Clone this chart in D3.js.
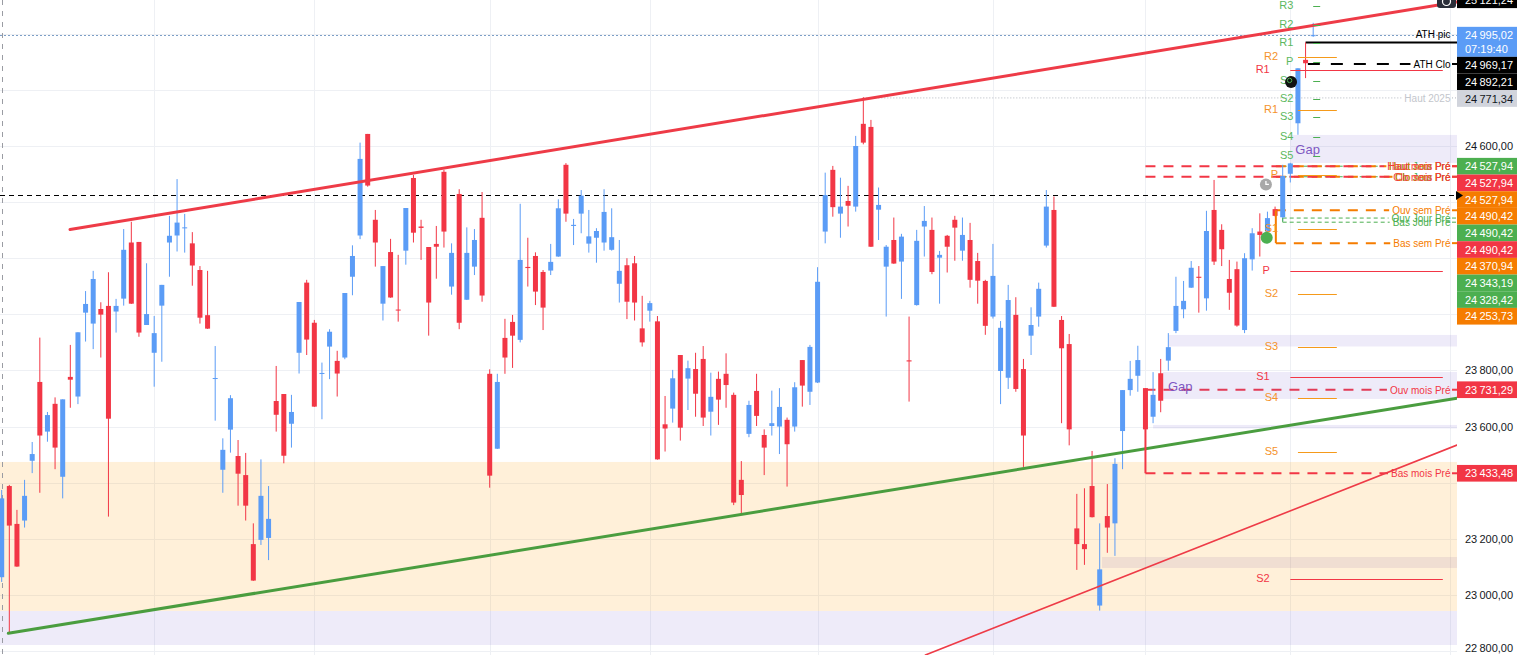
<!DOCTYPE html>
<html><head><meta charset="utf-8">
<script src="https://cdn.jsdelivr.net/npm/d3@7"></script>
<style>
html,body{margin:0;padding:0;background:#fff;overflow:hidden}
svg{display:block;font-family:"Liberation Sans",Arial,sans-serif}
</style></head><body>
<svg id="c" width="1517" height="655"></svg>
<script>
// ---------- DATA ----------
const open  = [23063,23388,23253,23265,23478,23759,23582,23681,23421,23777,23707,24006,23967,24019,24030,24010,24056,24256,24258,23962,23863,24031,24256,24281,24307,24253,24158,23997,23770,23446,23589,23495,23427,23181,23196,23203,23691,23716,23610,23863,24113,23970,23788,23885,23834,23846,24134,24281,24643,24337,24038,24222,24017,24227,24486,24313,24240,24251,24508,24099,24429,24052,24170,24344,23788,23521,23916,23973,23909,24169,24208,24151,24156,24206,24533,24315,24359,24252,24273,24256,24230,24109,24175,24182,23950,24013,23975,23608,23664,23855,23771,23805,23841,23653,23770,23788,23713,23410,23574,23727,23570,23602,23600,23624,23600,23837,23724,23757,24295,24515,24359,24404,24384,24679,24668,24373,24170,24265,24188,23836,24033,24313,24301,24202,24280,24337,24227,24265,24190,24119,23992,23798,23774,23998,23805,23924,23992,24245,24372,23980,23894,23237,23181,23388,22962,23281,23255,23584,23730,23781,23737,23635,23790,23835,23941,24018,24095,24134,24057,24372,24301,24126,24161,23944,24196,24295,24295,24375,24346,24501,24681,24907,24992];
const high  = [23374,23392,23303,23410,23545,23917,23652,23704,23697,23891,23936,24083,24155,24043,24150,24055,24304,24330,24258,24182,23994,24105,24351,24482,24358,24293,24172,24155,23887,23558,23712,23552,23506,23255,23483,23388,23816,23716,23713,24044,24123,23980,23828,23947,23870,24076,24246,24612,24643,24372,24172,24269,24212,24379,24497,24337,24240,24315,24515,24253,24446,24310,24304,24436,23804,23788,23984,23998,24394,24273,24221,24158,24251,24410,24539,24340,24443,24372,24307,24446,24378,24265,24200,24208,24066,24048,23994,23709,23802,23855,23835,23863,23887,23792,23796,23861,23721,23477,23692,23788,23590,23728,23737,23632,23758,23837,23891,24168,24505,24529,24487,24458,24636,24774,24693,24452,24247,24345,24287,23992,24301,24386,24345,24226,24283,24351,24345,24326,24219,24123,24251,23976,24105,24061,23841,24025,24113,24443,24420,23994,23930,23360,23380,23513,23255,23395,23487,23730,23834,23888,23737,23794,23841,23933,24134,24119,24190,24172,24369,24479,24321,24194,24188,24218,24307,24360,24366,24384,24533,24540,24877,24969.17,25039];
const low   = [23046,22863,23100,23240,23434,23364,23546,23448,23344,23667,23680,23903,23876,23846,23279,23935,24031,24037,23920,23962,23742,23831,24134,24224,24220,24102,23967,23948,23621,23364,23507,23318,23265,23050,23178,23124,23582,23469,23525,23789,23855,23670,23626,23769,23707,23840,24068,24268,24455,24170,23978,24059,23974,24177,24256,24194,23924,24127,24238,24070,23947,24051,24140,24045,23382,23520,23788,23809,23900,24099,24033,23944,24140,24205,24330,24247,24289,24220,24184,24227,24227,24042,23983,23978,23885,23974,23482,23511,23614,23550,23659,23635,23602,23568,23606,23667,23320,23285,23562,23602,23427,23568,23502,23386,23582,23671,23677,23755,24253,24348,24273,24313,24366,24606,24240,24265,23992,24180,24055,23689,24031,24206,24143,24038,24149,24191,24191,24095,24038,23927,23985,23680,23734,23724,23456,23855,23956,24238,24026,23612,23533,23089,23107,23276,22944,23150,23139,23448,23710,23724,23590,23612,23651,23799,23933,23986,24094,24006,24013,24176,24172,24016,23956,23933,24156,24206,24253,24349,24333,24470,24640,24842,24989];
const close = [23344,23247,23101,23353,23502,23568,23641,23525,23697,23767,23936,24037,24126,23999,23628,24030,24230,24038,23935,24001,23933,24105,24280,24327,24310,24174,23988,23949,23773,23517,23701,23432,23318,23051,23353,23271,23642,23496,23652,24044,23910,23671,23791,23938,23789,24076,24208,24554,24459,24256,24172,24060,24014,24379,24291,24308,24042,24241,24295,24219,23970,24219,24265,24067,23425,23759,23846,23924,24194,24165,24081,24024,24187,24378,24359,24319,24423,24278,24297,24365,24275,24155,24045,24042,23900,24040,23483,23593,23772,23596,23808,23717,23632,23706,23696,23748,23329,23356,23677,23638,23525,23612,23670,23537,23740,23746,23884,24116,24425,24382,24384,24387,24600,24612,24241,24390,24241,24181,24277,23832,24262,24333,24151,24212,24241,24309,24283,24123,24120,23959,24137,23952,24051,23734,23568,23962,24091,24384,24027,23879,23590,23181,23163,23277,23091,23240,23467,23730,23770,23837,23590,23713,23692,23883,24030,24048,24166,24130,24297,24188,24232,24077,23960,24200,24289,24283,24343,24351,24493,24538,24877,24895,24995.02];

const priceTicks = [22800,23000,23200,23400,23600,23800,24000,24200,24400,24600,24800,25000];
const monthStarts = [20,41,64,85,107,130,150,169,190];

// zones (from candle index, top price, bottom price)
const zoneFrom = [-1,-1,169,153,152.3,151,144.3];
const zoneHigh = [23473.8,22942.6,24639.5,23926.5,23794.6,23605.7,23135];
const zoneLow  = [22942.6,22821.4,24539.7,23885.5,23698.4,23593.2,23096];
const zoneKind = ["demand","gap","gap","gap","gap","gap","overlap"];
const zoneText = ["","","Gap","","Gap","",""];

// trend lines [index, price]
const trendResistance = [[8.96,24302.6],[190.85,25113.7]];
const trendSupport    = [[0.865,22863],[190.85,23701]];
const trendSupport2   = [[121.14,22785.7],[190.85,23534]];

// previous period levels
const monthNames = ["Haut mois Pré","Clo mois Pré","Ouv mois Pré","Bas mois Pré"];
const monthValues = [24527.94,24490.42,23731.29,23433.48];
const weekNames = ["Haut sem Pré","Clo sem Pré","Ouv sem Pré","Bas sem Pré"];
const weekValues = [24527.94,24490.42,24370.94,24253.73];
const dayNames = ["Haut Jour Pré","Clo Jour Pré","Ouv Jour Pré","Bas Jour Pré"];
const dayValues = [24527.94,24490.42,24343.19,24328.42];
const periodStart = {month:150, week:167.1, day:168};

// pivots
const dailyPivotNames = ["R3","R2","R1","P","S1","S2","S3","S4","S5"];
const dailyPivotValues = [25099,25032,24966,24901,24832,24767,24703,24633,24565];
const weeklyPivotNames = ["R2","R1","P","S1","S2","S3","S4","S5"];
const weeklyPivotValues = [24917,24729,24497,24304,24073,23884,23702,23509];
const monthlyPivotNames = ["R1","P","S1","S2"];
const monthlyPivotValues = [24870,24155,23776,23057];

// special levels
const lastPrice = 24995.02;
const countdown = "07:19:40";
const athPic = 24969.17;
const athClo = 24892.21;
const high2025 = 24771.34;
const high2025Index = 113;
const userLevel = 24424;

// axis labels
const axisLabelValues = [25121.24,24995.02,24969.17,24892.21,24771.34,24527.94,24527.94,24527.94,24490.42,24490.42,24490.42,24370.94,24343.19,24328.42,24253.73,23731.29,23433.48];
const axisLabelKinds  = ["mark","last","mark","mark","year","day","month","week","week","day","month","week","day","day","week","month","month"];

// ---------- DRAW ----------
const W = 1457, H = 655;
const svg = d3.select("#c");
const x = d3.scaleLinear().domain([0,171]).range([1.7, 1.7 + 7.625*171]);
const y = d3.scaleLinear().domain([22800,24600]).range([651,146]);
const fmt = d3.formatLocale({decimal:",",thousands:"\u2009",grouping:[3],currency:["",""]}).format(",.2f");

const C = {blue:"#5b9cf6", red:"#f23645", green:"#4caf50", orange:"#f57c00", black:"#000", grid:"#eef0f4"};
const kindColor = {mark:"#000", last:C.blue, year:"#d1d4dc", day:C.green, month:C.red, week:C.orange};

svg.append("defs").append("clipPath").attr("id","plot")
  .append("rect").attr("x",0).attr("y",0).attr("width",W).attr("height",H);
const plot = svg.append("g").attr("clip-path","url(#plot)");
const cr = v => Math.round(v)+0.5;

// grid
plot.append("g").selectAll("line").data(priceTicks).join("line")
  .attr("x1",0).attr("x2",W).attr("y1",d=>cr(y(d))).attr("y2",d=>cr(y(d)))
  .attr("stroke",C.grid).attr("stroke-width",1);
plot.append("g").selectAll("line").data(monthStarts).join("line")
  .attr("y1",0).attr("y2",H).attr("x1",d=>cr(x(d))).attr("x2",d=>cr(x(d)))
  .attr("stroke",C.grid).attr("stroke-width",1);

// zones
const zoneFill = {demand:"rgba(255,152,0,0.15)", gap:"rgba(120,100,210,0.13)", overlap:"rgba(140,100,160,0.13)"};
zoneFrom.forEach((f,i)=>{
  const x0 = f < 0 ? 0 : x(f);
  plot.append("rect").attr("x",x0).attr("width",W-x0)
    .attr("y",y(zoneHigh[i])).attr("height",y(zoneLow[i])-y(zoneHigh[i]))
    .attr("fill",zoneFill[zoneKind[i]]);
  if (zoneText[i]) {
    plot.append("text").attr("x",x0+5).attr("y",(y(zoneHigh[i])+y(zoneLow[i]))/2+1)
      .attr("dominant-baseline","central").attr("font-size",13).attr("fill","#7e57c2").text(zoneText[i]);
  }
});

// vertical dashed session line
plot.append("line").attr("x1",2.5).attr("x2",2.5).attr("y1",0).attr("y2",H)
  .attr("stroke","#9a9ca3").attr("stroke-dasharray","5,6").attr("stroke-width",1);

// full-width level lines
plot.append("line").attr("x1",0).attr("x2",W).attr("y1",cr(y(userLevel))).attr("y2",cr(y(userLevel)))
  .attr("stroke","#000").attr("stroke-dasharray","5,4").attr("stroke-width",1);
plot.append("line").attr("x1",0).attr("x2",W).attr("y1",cr(y(lastPrice))).attr("y2",cr(y(lastPrice)))
  .attr("stroke","#7d9fc6").attr("stroke-dasharray","2,2").attr("stroke-width",1);

// candles
const candles = plot.append("g");
open.forEach((o,i)=>{
  const c = close[i], up = c >= o, col = up ? C.blue : C.red;
  const cx = x(i);
  candles.append("line").attr("x1",cx).attr("x2",cx).attr("y1",y(high[i])).attr("y2",y(low[i]))
    .attr("stroke",col).attr("stroke-width",1);
  const t = Math.min(y(o),y(c)), h = Math.max(1, Math.abs(y(o)-y(c)));
  candles.append("rect").attr("x",cx-2.5).attr("width",5).attr("y",t).attr("height",h).attr("fill",col);
});

// trend lines
function trend(pts, col, w){
  plot.append("line").attr("x1",x(pts[0][0])).attr("y1",y(pts[0][1]))
    .attr("x2",x(pts[1][0])).attr("y2",y(pts[1][1]))
    .attr("stroke",col).attr("stroke-width",w).attr("stroke-linecap","round");
}
trend(trendSupport, "#4a9d3f", 3);
trend(trendSupport2, "#ee3b47", 1.6);
trend(trendResistance, "#ee3b47", 3);

// level line with text at right
const textRight = 1450.5;
function levelLine(v, startX, col, width, dash, label, labelCol, pos){
  const yy = y(v);
  const t = plot.append("text").attr("x",textRight).attr("text-anchor","end")
    .attr("font-size",10).attr("fill",labelCol||col).text(label);
  let endX = W;
  if (pos === "above") {
    t.attr("y",yy-8).attr("dominant-baseline","central");
  } else {
    t.attr("y",yy+0.5).attr("dominant-baseline","central");
    const tw = t.node().getComputedTextLength();
    endX = textRight - tw - 3;
    plot.append("line").attr("x1",1452).attr("x2",W).attr("y1",yy).attr("y2",yy)
      .attr("stroke",col).attr("stroke-width",width).attr("stroke-dasharray",dash);
  }
  plot.insert("line","text").attr("x1",startX).attr("x2",endX).attr("y1",yy).attr("y2",yy)
    .attr("stroke",col).attr("stroke-width",width).attr("stroke-dasharray",dash);
}

// day (green), week (orange), month (red)
dayValues.forEach((v,i)=>levelLine(v, x(periodStart.day), C.green, 1, "4,3", dayNames[i]));
plot.append("line").attr("x1",x(periodStart.day)).attr("x2",x(periodStart.day))
  .attr("y1",y(dayValues[2])).attr("y2",y(dayValues[3])).attr("stroke",C.green).attr("stroke-width",1);
weekValues.forEach((v,i)=>levelLine(v, x(periodStart.week), C.orange, 2, "10,8", weekNames[i]));
plot.append("line").attr("x1",x(periodStart.week)).attr("x2",x(periodStart.week))
  .attr("y1",y(weekValues[2])).attr("y2",y(weekValues[3])).attr("stroke",C.orange).attr("stroke-width",2);
monthValues.forEach((v,i)=>levelLine(v, x(periodStart.month), C.red, 2, "10,8", monthNames[i]));
plot.append("line").attr("x1",x(periodStart.month)).attr("x2",x(periodStart.month))
  .attr("y1",y(monthValues[2])).attr("y2",y(monthValues[3])).attr("stroke",C.red).attr("stroke-width",2);

// special
levelLine(high2025, x(high2025Index), "#b2b5be", 1, "1,2", "Haut 2025", "#c3c6cc");
levelLine(athClo, x(171.3), "#000", 2, "12,11", "ATH Clo");
levelLine(athPic, x(171), "#000", 2, null, "ATH pic", "#000", "above");

// pivots
const pv = plot.append("g").attr("font-size",11);
monthlyPivotValues.forEach((v,i)=>{
  pv.append("line").attr("x1",x(169)).attr("x2",x(189)).attr("y1",cr(y(v))).attr("y2",cr(y(v)))
    .attr("stroke",C.red).attr("stroke-width",1);
  pv.append("text").attr("x",x(166.3)).attr("y",y(v)-1).attr("text-anchor","end")
    .attr("dominant-baseline","central").attr("fill",C.red).text(monthlyPivotNames[i]);
});
weeklyPivotValues.forEach((v,i)=>{
  pv.append("line").attr("x1",x(170)).attr("x2",x(175.1)).attr("y1",cr(y(v))).attr("y2",cr(y(v)))
    .attr("stroke","#f59a1a").attr("stroke-width",1);
  pv.append("text").attr("x",x(167.4)).attr("y",y(v)-1).attr("text-anchor","end")
    .attr("dominant-baseline","central").attr("fill","#f5922a").text(weeklyPivotNames[i]);
});
dailyPivotValues.forEach((v,i)=>{
  pv.append("line").attr("x1",x(172)).attr("x2",x(172)+7).attr("y1",cr(y(v))).attr("y2",cr(y(v)))
    .attr("stroke",C.green).attr("stroke-width",1);
  pv.append("text").attr("x",x(169.4)).attr("y",y(v)-1).attr("text-anchor","end")
    .attr("dominant-baseline","central").attr("fill","#5cb860").text(dailyPivotNames[i]);
});

// event markers
plot.append("circle").attr("cx",x(169.1)).attr("cy",y(24832)+1).attr("r",6).attr("fill","#111");
plot.append("circle").attr("cx",x(169.1)-1.5).attr("cy",y(24832)-0.5).attr("r",2.2).attr("fill","none").attr("stroke","#4caf50").attr("stroke-width",1);
const clk = plot.append("g").attr("transform",`translate(${x(165.8)},${y(24463)})`);
clk.append("circle").attr("r",6).attr("fill","#a8a8a8");
clk.append("path").attr("d","M0,-3.5V0H3").attr("stroke","#fff").attr("stroke-width",1.3).attr("fill","none");
plot.append("circle").attr("cx",x(165.9)).attr("cy",y(24273)).attr("r",6).attr("fill","#4caf50");
[172,173.9].forEach(i=>plot.append("circle").attr("cx",x(i)).attr("cy",y(22755)).attr("r",6)
  .attr("fill","none").attr("stroke",C.red).attr("stroke-width",1.6));
plot.append("rect").attr("x",1437).attr("y",-6).attr("width",19).attr("height",14).attr("rx",3).attr("fill","#2a2e39");
plot.append("circle").attr("cx",1446.5).attr("cy",1.5).attr("r",4).attr("fill","none").attr("stroke","#fff").attr("stroke-width",1.2);

// ---------- RIGHT AXIS ----------
const ax = svg.append("g").attr("font-size",11);
const LH = 16.67;
const order = axisLabelValues.map((v,i)=>i).sort((a,b)=>axisLabelValues[b]-axisLabelValues[a]);
let prevBottom = -1e9;
const boxes = [];
order.forEach(i=>{
  const v = axisLabelValues[i], k = axisLabelKinds[i];
  const h = k === "last" ? 30 : LH;
  const top = Math.max(y(v) - LH/2, prevBottom);
  prevBottom = top + h;
  boxes.push({i, top, h, k, v});
});
// ticks (hidden when overlapped by a label)
priceTicks.forEach(t=>{
  const ty = y(t);
  const hidden = boxes.some(b => ty+7 > b.top && ty-7 < b.top+b.h);
  if (hidden) return;
  ax.append("text").attr("x",1465).attr("y",Math.min(ty, H-7)).attr("dominant-baseline","central")
    .attr("fill","#131722").text(fmt(t));
});
boxes.forEach(b=>{
  ax.append("rect").attr("x",1457).attr("y",b.top).attr("width",60).attr("height",b.h)
    .attr("fill",kindColor[b.k]);
  const fg = b.k === "year" ? "#131722" : "#fff";
  ax.append("text").attr("x",1465).attr("y",b.top+LH/2).attr("dominant-baseline","central")
    .attr("fill",fg).text(fmt(b.v));
  if (b.k === "last") {
    ax.append("text").attr("x",1465).attr("y",b.top+LH/2+13.5).attr("dominant-baseline","central")
      .attr("fill",fg).text(countdown);
  }
});
// arrow of user level
svg.append("path").attr("d",`M1456,${y(userLevel)-4.5}L1463,${y(userLevel)}L1456,${y(userLevel)+4.5}Z`).attr("fill","#000");
</script>
</body></html>
